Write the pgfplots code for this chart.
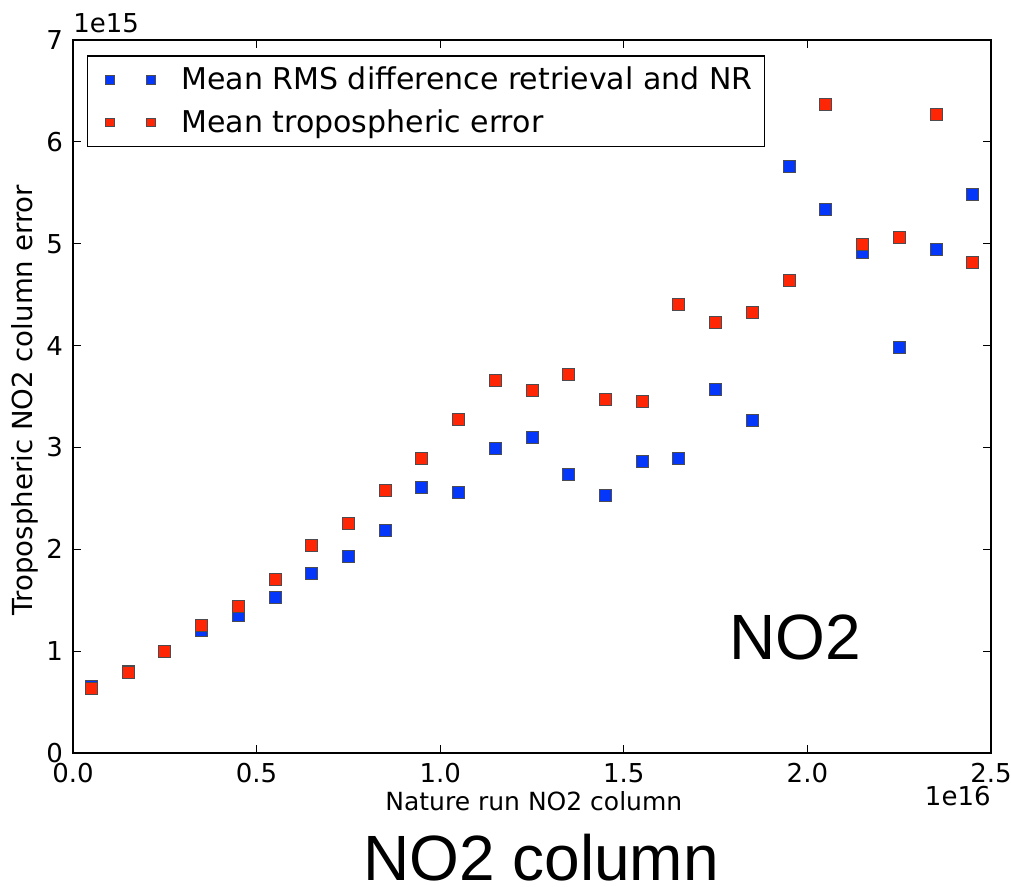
\documentclass[border=0pt]{standalone}
\usepackage{pgfplots}
\pgfplotsset{compat=1.18}
\usepackage{pgfplotstable}
\usepackage{fontspec}
\setmainfont{DejaVu Sans}
\newfontfamily\arial{Liberation Sans}

\definecolor{mplblue}{RGB}{5,55,250}
\definecolor{mplred}{RGB}{255,38,5}
\definecolor{edgegray}{RGB}{75,75,80}

% x in 1e16, y in 1e15
\pgfplotstableread{
x     rms   trop
0.05  0.65  0.63
0.15  0.80  0.79
0.25  1.00  1.00
0.35  1.20  1.25
0.45  1.35  1.44
0.55  1.53  1.70
0.65  1.76  2.04
0.75  1.93  2.25
0.85  2.19  2.58
0.95  2.61  2.89
1.05  2.56  3.28
1.15  2.99  3.66
1.25  3.10  3.56
1.35  2.74  3.72
1.45  2.53  3.47
1.55  2.86  3.45
1.65  2.89  4.40
1.75  3.57  4.23
1.85  3.27  4.33
1.95  5.76  4.64
2.05  5.34  6.37
2.15  4.91  4.99
2.25  3.98  5.06
2.35  4.94  6.27
2.45  5.48  4.82
}\nodata

\begin{document}
\begin{tikzpicture}
\useasboundingbox (-36.5pt,-67pt) rectangle (469pt,376.5pt);
\begin{axis}[
scale only axis,
width=459pt,
height=356.5pt,
xmin=0, xmax=2.5,
ymin=0, ymax=7,
xtick={0,0.5,1,1.5,2,2.5},
ytick={0,1,2,3,4,5,6,7},
xticklabel style={/pgf/number format/fixed,/pgf/number format/fixed zerofill,/pgf/number format/precision=1, yshift=-1.5pt},
yticklabel style={xshift=-1.5pt},
/pgf/number format/assume math mode=true,
tick label style={font=\fontsize{13}{15}\selectfont},
tick align=inside,
major tick length=4pt,
every tick/.style={black, line width=0.6pt},
axis line style={line width=1pt},
xlabel={Nature run NO2 column},
ylabel={Tropospheric NO2 column error},
xlabel style={font=\fontsize{12.5}{14}\selectfont, at={(axis description cs:0.502,0)}, anchor=base, yshift=-29pt},
ylabel style={font=\fontsize{13.8}{15}\selectfont, at={([xshift=-24pt]axis description cs:0,0.495)}, anchor=center},
legend style={at={(0.015,0.979)}, anchor=north west, draw=black, line width=0.8pt,
  font=\fontsize{15}{17}\selectfont, row sep=4.5pt,
  inner xsep=4pt, inner ysep=3.5pt},
legend cell align=left,
legend image code/.code={
  \path[draw=none, fill=none] (-2.2pt,0pt) -- (38.7pt,0pt);
  \draw[only marks, mark size=2.2pt] plot coordinates {(5pt,0pt) (25.5pt,0pt)};
},
clip=false,
]
\addplot[only marks, mark=square*, mark size=3pt,
  mark options={fill=mplblue, draw=edgegray, line width=0.4pt}]
  table[x=x, y=rms] {\nodata};
\addlegendentry{Mean RMS difference retrieval and NR}
\addplot[only marks, mark=square*, mark size=3pt,
  mark options={fill=mplred, draw=edgegray, line width=0.4pt}]
  table[x=x, y=trop] {\nodata};
\addlegendentry{Mean tropospheric error}

\node[anchor=center] at (axis cs:1.966,1.13) {\arial\fontsize{32}{36}\selectfont NO2};
\node[anchor=base west, inner sep=0pt] at (axis description cs:0,1) [yshift=3.5pt]
  {\fontsize{13}{15}\selectfont 1e15};
\node[anchor=base east, inner sep=0pt] at (axis description cs:1,0) [yshift=-26.5pt]
  {\fontsize{13}{15}\selectfont 1e16};
\end{axis}
\node[anchor=base, inner sep=0pt] at (234pt,-64pt) {\arial\fontsize{32}{36}\selectfont NO2 column};
\end{tikzpicture}
\end{document}
